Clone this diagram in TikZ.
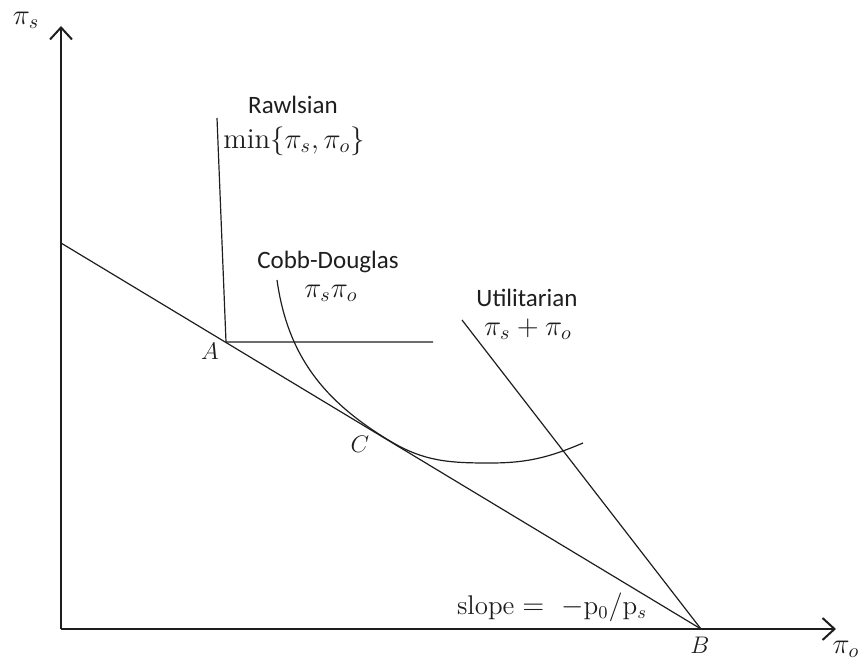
\documentclass[tikz,border=0pt]{standalone}
\usepackage{fontspec}
\setsansfont{Carlito}
\usepackage{amsmath}
\usepackage{tikz}
\usetikzlibrary{arrows.meta,positioning,calc}
\definecolor{ink}{HTML}{1E1E1E}
\tikzset{
  axisline/.style={
    draw=ink, line width=1pt, -{Straight Barb[length=6pt,width=11pt,line width=1pt]}
  },
  curveline/.style={
    draw=ink, line width=0.6pt
  },
  labeltext/.style={
    font=\sffamily\fontsize{12.5}{15}\selectfont, text=ink, inner sep=1pt
  },
  mathtext/.style={
    font=\Large, text=ink, inner sep=1pt
  },
  pointlabel/.style={
    font=\large, text=ink, inner sep=1pt
  },
}
\begin{document}
\begin{tikzpicture}[x=0.5pt, y=-0.5pt]
  \useasboundingbox (0,0) rectangle (862,664);

  % axes
  \coordinate (origin) at (61,629);
  \coordinate (ytop) at (61,26);
  \coordinate (xend) at (836,629);
  \draw[axisline] (origin) -- (ytop);
  \draw[axisline] (origin) -- (xend);
  \node[mathtext, inner sep=0pt] (ylab) at (26,20) {$\pi_s$};
  \node[mathtext, inner sep=0pt] (xlab) at (846,649) {$\pi_o$};

  % budget line
  \coordinate (bstart) at (61,243);
  \coordinate (B) at (701,629);
  \coordinate (A) at (226,342);
  \coordinate (C) at (390,441);
  \draw[curveline] (bstart) -- (B);
  \node[pointlabel] (Alab) at (210,351) {$A$};
  \node[pointlabel] (Blab) at (700,645) {$B$};
  \node[pointlabel] (Clab) at (360,444) {$C$};
  \node[mathtext, font=\fontsize{13.5}{16}\selectfont] (slope) at (552,607)
    {$\mathrm{slope} =\ -\mathrm{p}_0/\mathrm{p}_s$};

  % Rawlsian
  \coordinate (rtop) at (217,118);
  \coordinate (rend) at (433,342);
  \draw[curveline] (rtop) -- (A) -- (rend);
  \node[labeltext] (rname) at (293,105) {Rawlsian};
  \node[mathtext] (rform) at (294,141) {$\min\{\pi_s,\pi_o\}$};

  % Cobb-Douglas
  \coordinate (cdstart) at (277,280);
  \coordinate (cdlow) at (490,463);
  \coordinate (cdend) at (583,443);
  \draw[curveline] (cdstart) to[out=-82, in=149] (C)
    to[out=-31, in=180] (cdlow) to[out=0, in=-157] (cdend);
  \node[labeltext] (cdname) at (328,262) {Cobb-Douglas};
  \node[mathtext] (cdform) at (331,293) {$\pi_s\pi_o$};

  % Utilitarian
  \coordinate (utop) at (462,320);
  \draw[curveline] (utop) -- (B);
  \node[labeltext] (uname) at (527,298) {Utilitarian};
  \node[mathtext] (uform) at (528,329) {$\pi_s+\pi_o$};
\end{tikzpicture}
\end{document}
